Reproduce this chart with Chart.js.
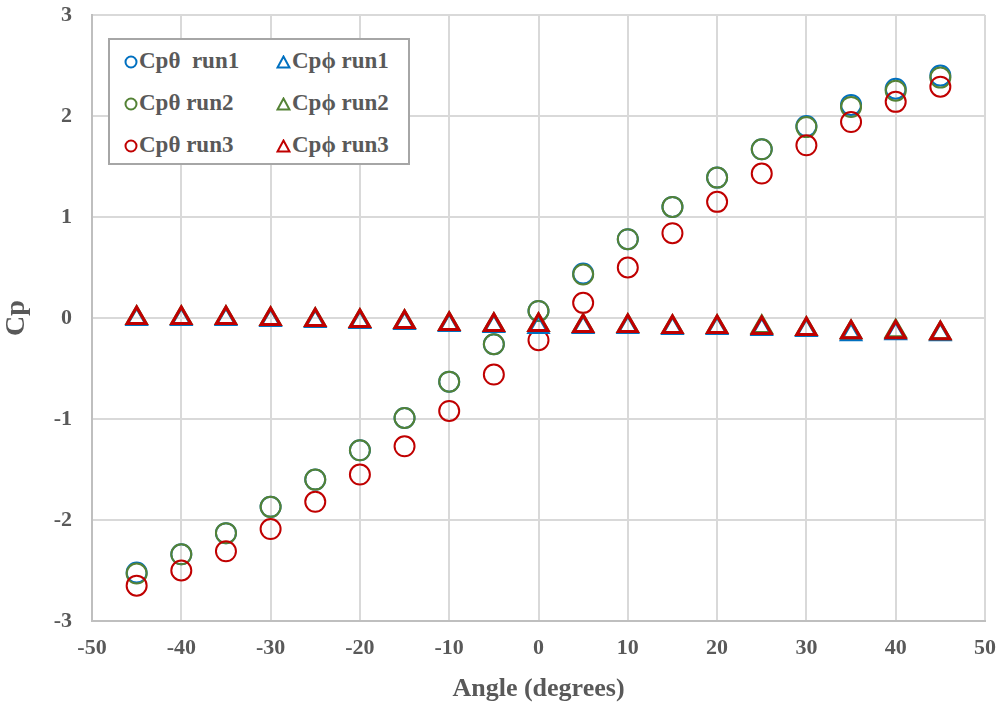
<!DOCTYPE html>
<html>
<head>
<meta charset="utf-8">
<script src="https://cdn.jsdelivr.net/npm/chart.js@4"></script>
<style>
  html, body { margin: 0; padding: 0; background: #fff; }
  #wrap { position: relative; width: 1005px; height: 705px; }
  #legend {
    position: absolute; left: 108px; top: 38px; width: 302px; height: 127px;
    border: 2px solid #a6a6a6; background: #fff; box-sizing: border-box;
    font-family: 'Liberation Serif', 'Times New Roman', serif; font-weight: bold;
    font-size: 23px; color: #595959;
  }
  #legend .item { position: absolute; white-space: pre; line-height: 24px; }
  #legend svg { vertical-align: -1px; margin-right: 1px; }
</style>
</head>
<body>
<div id="wrap">
  <canvas id="chart" width="1005" height="705"></canvas>
  <div id="legend"></div>
</div>
<script>
// Cp vs angle, three runs
var angles = [-45, -40, -35, -30, -25, -20, -15, -10, -5, 0, 5, 10, 15, 20, 25, 30, 35, 40, 45];

var cpThetaRun1 = [-2.52, -2.34, -2.13, -1.87, -1.60, -1.31, -0.99, -0.63, -0.26, 0.07, 0.44, 0.78, 1.10, 1.39, 1.67, 1.90, 2.11, 2.27, 2.40];
var cpThetaRun2 = [-2.53, -2.34, -2.13, -1.87, -1.60, -1.31, -0.99, -0.63, -0.26, 0.07, 0.43, 0.78, 1.10, 1.39, 1.67, 1.89, 2.09, 2.25, 2.38];
var cpThetaRun3 = [-2.65, -2.50, -2.31, -2.09, -1.82, -1.55, -1.27, -0.92, -0.56, -0.22, 0.15, 0.50, 0.84, 1.15, 1.43, 1.71, 1.94, 2.14, 2.29];

var cpPhiRun1 = [-0.01, -0.01, -0.01, -0.02, -0.03, -0.04, -0.05, -0.07, -0.08, -0.09, -0.09, -0.09, -0.10, -0.10, -0.11, -0.12, -0.16, -0.15, -0.16];
var cpPhiRun2 = [0.00, 0.00, 0.00, -0.01, -0.02, -0.03, -0.04, -0.06, -0.07, -0.07, -0.08, -0.08, -0.09, -0.09, -0.09, -0.11, -0.14, -0.13, -0.15];
var cpPhiRun3 = [0.00, 0.00, 0.00, -0.01, -0.02, -0.03, -0.04, -0.06, -0.07, -0.07, -0.08, -0.08, -0.09, -0.09, -0.10, -0.11, -0.14, -0.14, -0.15];

var xTicks = [-50, -40, -30, -20, -10, 0, 10, 20, 30, 40, 50];
var yTicks = [-3, -2, -1, 0, 1, 2, 3];

var blue = '#0070C0', green = '#548235', red = '#C00000';
var textColor = '#595959';
var fontFamily = "'Liberation Serif', 'Times New Roman', serif";

function toPoints(ys) {
    var pts = [];
    for (var i = 0; i < angles.length; i++) pts.push({ x: angles[i], y: ys[i] });
    return pts;
}

function makeSet(label, ys, color, style, order) {
    return {
        label: label,
        data: toPoints(ys),
        pointStyle: style,
        pointRadius: style === 'circle' ? 10 : 11,
        pointBorderWidth: style === 'circle' ? 2 : 3,
        pointBorderColor: color,
        pointBackgroundColor: 'rgba(0,0,0,0)',
        borderColor: color,
        backgroundColor: 'rgba(0,0,0,0)',
        showLine: false,
        order: order
    };
}

var datasets = [
    makeSet('Cp\u03b8  run1', cpThetaRun1, blue, 'circle', 6),
    makeSet('Cp\u03b8 run2', cpThetaRun2, green, 'circle', 5),
    makeSet('Cp\u03b8 run3', cpThetaRun3, red, 'circle', 4),
    makeSet('Cp\u03d5 run1', cpPhiRun1, blue, 'triangle', 3),
    makeSet('Cp\u03d5 run2', cpPhiRun2, green, 'triangle', 2),
    makeSet('Cp\u03d5 run3', cpPhiRun3, red, 'triangle', 1)
];

// html legend, two columns like the original
function buildLegend() {
    var box = document.getElementById('legend');
    var cols = [[0, 1, 2], [3, 4, 5]];
    var colX = [14, 166];
    for (var c = 0; c < 2; c++) {
        for (var r = 0; r < 3; r++) {
            var ds = datasets[cols[c][r]];
            var item = document.createElement('div');
            item.className = 'item';
            item.style.left = colX[c] + 'px';
            item.style.top = (9 + r * 42) + 'px';
            var icon;
            if (ds.pointStyle === 'circle') {
                icon = '<svg width="14" height="14"><circle cx="7" cy="7" r="5.5" fill="none" stroke="' + ds.pointBorderColor + '" stroke-width="2"/></svg>';
            } else {
                icon = '<svg width="15" height="14"><polygon points="7.5,1.5 13.5,12.5 1.5,12.5" fill="none" stroke="' + ds.pointBorderColor + '" stroke-width="2"/></svg>';
            }
            item.innerHTML = icon + '<span></span>';
            item.lastChild.textContent = ds.label;
            box.appendChild(item);
        }
    }
}

var tickFont = { family: fontFamily, size: 22, weight: 'bold' };

new Chart(document.getElementById('chart'), {
    type: 'scatter',
    data: { datasets: datasets },
    options: {
        responsive: false,
        animation: false,
        layout: { padding: { top: 15, right: 20, left: 0, bottom: 0 } },
        plugins: {
            legend: { display: false },
            tooltip: { enabled: false }
        },
        scales: {
            x: {
                type: 'linear',
                min: -50, max: 50,
                afterBuildTicks: function(scale) {
                    scale.ticks = xTicks.map(function(v) { return { value: v }; });
                },
                afterFit: function(scale) {
                    scale.height = 84;
                    scale.paddingRight = 0;
                    scale.paddingLeft = 0;
                },
                grid: { color: '#d9d9d9', lineWidth: 2, drawTicks: false },
                border: { color: '#bfbfbf', width: 2 },
                ticks: { color: textColor, font: tickFont, padding: 14, maxRotation: 0 },
                title: {
                    display: true, text: 'Angle (degrees)', color: textColor,
                    font: { family: fontFamily, size: 26, weight: 'bold' },
                    padding: { top: 4, bottom: 0 }
                }
            },
            y: {
                type: 'linear',
                min: -3, max: 3,
                afterBuildTicks: function(scale) {
                    scale.ticks = yTicks.map(function(v) { return { value: v }; });
                },
                afterFit: function(scale) {
                    scale.width = 92;
                    scale.paddingTop = 0;
                    scale.paddingBottom = 0;
                },
                grid: { color: '#d9d9d9', lineWidth: 2, drawTicks: false },
                border: { color: '#bfbfbf', width: 2 },
                ticks: { color: textColor, font: tickFont, padding: 20 },
                title: {
                    display: true, text: 'Cp', color: textColor,
                    font: { family: fontFamily, size: 28, weight: 'bold' },
                    padding: { top: 0, bottom: 8 }
                }
            }
        }
    }
});

buildLegend();
</script>
</body>
</html>
